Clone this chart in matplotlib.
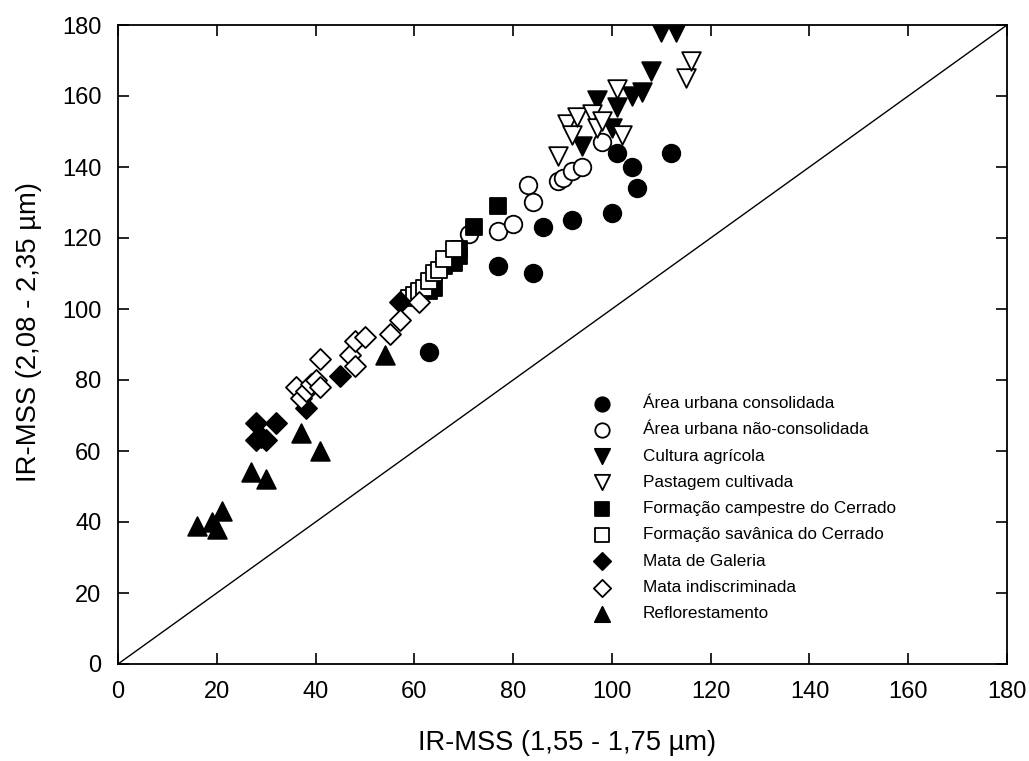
import matplotlib
matplotlib.use("Agg")
import matplotlib.pyplot as plt

plt.rcParams['font.family'] = ['Liberation Sans', 'DejaVu Sans']

# Data (x: IR-MSS 1,55-1,75 µm ; y: IR-MSS 2,08-2,35 µm)
urb_cons_x = [63, 77, 84, 86, 92, 100, 101, 104, 105, 112]
urb_cons_y = [88, 112, 110, 123, 125, 127, 144, 140, 134, 144]

urb_ncons_x = [71, 77, 80, 83, 84, 89, 90, 92, 94, 98]
urb_ncons_y = [121, 122, 124, 135, 130, 136, 137, 139, 140, 147]

cultura_x = [94, 97, 100, 101, 104, 106, 108, 110, 113]
cultura_y = [146, 159, 151, 157, 160, 161, 167, 178, 178]

pastagem_x = [89, 91, 92, 93, 96, 97, 98, 101, 102, 115, 116]
pastagem_y = [143, 152, 149, 154, 155, 151, 153, 162, 149, 165, 170]

campestre_x = [63, 64, 66, 68, 69, 69, 72, 77]
campestre_y = [105, 106, 112, 113, 115, 117, 123, 129]

savanica_x = [59, 60, 61, 62, 63, 64, 65, 66, 68]
savanica_y = [103, 104, 105, 106, 108, 110, 111, 114, 117]

galeria_x = [28, 32, 28, 29, 30, 38, 45, 57]
galeria_y = [68, 68, 63, 64, 63, 72, 81, 102]

indiscr_x = [36, 37, 38, 39, 40, 41, 41, 47, 48, 48, 50, 55, 57, 61]
indiscr_y = [78, 75, 77, 79, 80, 78, 86, 87, 84, 91, 92, 93, 97, 102]

reflor_x = [16, 19, 20, 21, 27, 30, 37, 41, 54]
reflor_y = [39, 40, 38, 43, 54, 52, 65, 60, 87]

labels = ["Área urbana consolidada", "Área urbana não-consolidada", "Cultura agrícola",
          "Pastagem cultivada", "Formação campestre do Cerrado", "Formação savânica do Cerrado",
          "Mata de Galeria", "Mata indiscriminada", "Reflorestamento"]

series = [
    (urb_cons_x, urb_cons_y, 'o', 'black', 160),
    (urb_ncons_x, urb_ncons_y, 'o', 'white', 160),
    (cultura_x, cultura_y, 'v', 'black', 180),
    (pastagem_x, pastagem_y, 'v', 'white', 180),
    (campestre_x, campestre_y, 's', 'black', 140),
    (savanica_x, savanica_y, 's', 'white', 140),
    (galeria_x, galeria_y, 'D', 'black', 115),
    (indiscr_x, indiscr_y, 'D', 'white', 115),
    (reflor_x, reflor_y, '^', 'black', 180),
]

fig = plt.figure(figsize=(10.29, 7.61), dpi=100)
ax = fig.add_axes([118/1029, 1 - 664/761, 889/1029, 639/761])

ax.plot([0, 180], [0, 180], color='black', lw=1.0, zorder=1)

for (x, y, m, fc, s), lab in zip(series, labels):
    ax.scatter(x, y, marker=m, s=s, facecolors=fc, edgecolors='black',
               linewidths=1.3, label=lab, zorder=3)

ax.set_xlim(0, 180)
ax.set_ylim(0, 180)
ax.set_xticks(range(0, 181, 20))
ax.set_yticks(range(0, 181, 20))
ax.tick_params(direction='in', length=8, width=1.2, labelsize=17,
               top=True, right=True)
ax.tick_params(axis='x', pad=12)
ax.tick_params(axis='y', pad=12)
for sp in ax.spines.values():
    sp.set_linewidth(1.3)

ax.set_xlabel("IR-MSS (1,55 - 1,75 µm)", fontsize=19.6)
ax.set_ylabel("IR-MSS (2,08 - 2,35 µm)", fontsize=19.8)
ax.xaxis.set_label_coords(0.5056, -0.103)
ax.yaxis.set_label_coords(-0.085, 0.52)

leg = ax.legend(loc='upper left', bbox_to_anchor=(0.525, 0.430), frameon=False,
                fontsize=12.3, markerscale=0.82, handletextpad=1.8,
                labelspacing=0.66, borderaxespad=0, handlelength=1.2)

fig.savefig("out.png", dpi=100)
